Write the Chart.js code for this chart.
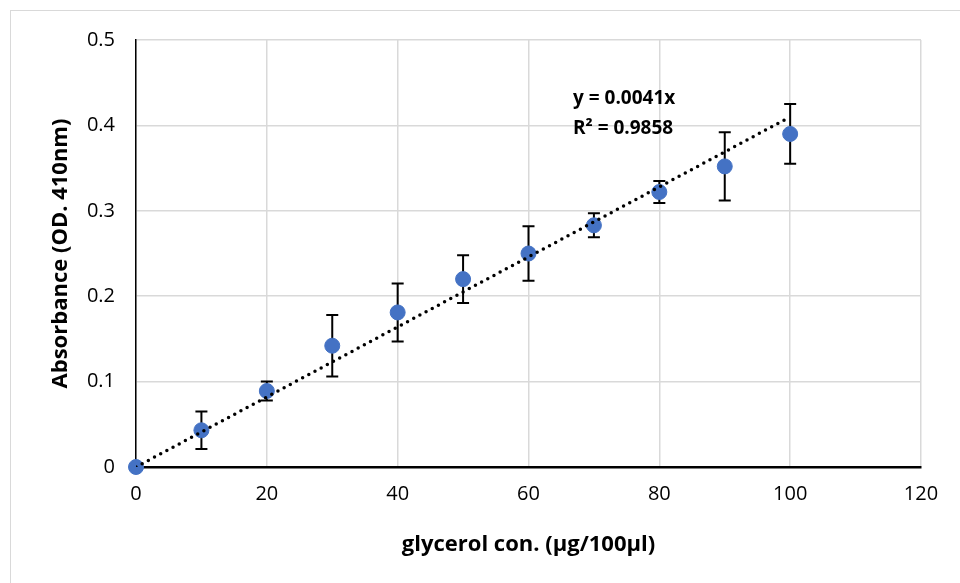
<!DOCTYPE html>
<html lang="en">
<head>
    <meta charset="UTF-8">
    <title>Glycerol standard curve</title>
    <script src="https://cdn.jsdelivr.net/npm/chart.js"></script>
    <style>
        body {
            margin: 0;
            padding: 0;
            background-color: white;
            overflow: hidden;
        }
        #frame {
            position: absolute;
            left: 10px;
            top: 10px;
            width: 1000px;
            height: 700px;
            border: 1px solid #d9d9d9;
        }
        #chart-container {
            position: absolute;
            left: 0;
            top: 0;
            width: 960px;
            height: 583px;
        }
    </style>
</head>
<body>
    <div id="frame"></div>
    <div id="chart-container">
        <canvas id="curve"></canvas>
    </div>

    <script>
        // standard curve readings
        var concentration = [0, 10, 20, 30, 40, 50, 60, 70, 80, 90, 100];
        var absorbance = [0, 0.043, 0.089, 0.142, 0.181, 0.220, 0.250, 0.283, 0.322, 0.352, 0.390];
        var stdError = [0, 0.022, 0.011, 0.036, 0.034, 0.028, 0.032, 0.014, 0.013, 0.040, 0.035];
        var xTicks = [0, 20, 40, 60, 80, 100, 120];
        var yTicks = [0, 0.1, 0.2, 0.3, 0.4, 0.5];

        // linear fit through origin
        var slope = 0.0041;
        var rSquared = 0.9858;
        var fitX = [0, 100];

        var fontFamily = "'Open Sans', sans-serif";

        var points = concentration.map(function (x, i) {
            return { x: x, y: absorbance[i] };
        });
        var fitLine = fitX.map(function (x) {
            return { x: x, y: slope * x };
        });

        // vertical error bars with caps, drawn under the markers
        var errorBars = {
            id: 'errorBars',
            beforeDatasetsDraw: function (chart) {
                var ctx = chart.ctx;
                var xs = chart.scales.x, ys = chart.scales.y;
                ctx.save();
                ctx.strokeStyle = '#000';
                ctx.lineWidth = 2;
                for (var i = 0; i < concentration.length; i++) {
                    if (!stdError[i]) continue;
                    var px = xs.getPixelForValue(concentration[i]);
                    var top = ys.getPixelForValue(absorbance[i] + stdError[i]);
                    var bot = ys.getPixelForValue(absorbance[i] - stdError[i]);
                    ctx.beginPath();
                    ctx.moveTo(px, top);
                    ctx.lineTo(px, bot);
                    ctx.moveTo(px - 6, top);
                    ctx.lineTo(px + 6, top);
                    ctx.moveTo(px - 6, bot);
                    ctx.lineTo(px + 6, bot);
                    ctx.stroke();
                }
                ctx.restore();
            }
        };

        // equation and R² label next to the trendline
        var fitLabel = {
            id: 'fitLabel',
            afterDatasetsDraw: function (chart) {
                var ctx = chart.ctx;
                var px = chart.scales.x.getPixelForValue(66.8);
                var py = chart.scales.y.getPixelForValue(0.431);
                ctx.save();
                ctx.fillStyle = '#000';
                ctx.font = 'bold 19px ' + fontFamily;
                ctx.textBaseline = 'middle';
                ctx.fillText('y = ' + slope + 'x', px, py);
                ctx.fillText('R² = ' + rSquared, px, py + 30);
                ctx.restore();
            }
        };

        var ctx = document.getElementById('curve').getContext('2d');
        var chart = new Chart(ctx, {
            type: 'scatter',
            data: {
                datasets: [{
                    label: 'fit',
                    type: 'line',
                    data: fitLine,
                    borderColor: '#000',
                    borderWidth: 3.5,
                    borderDash: [0, 7],
                    borderCapStyle: 'round',
                    pointRadius: 0,
                    fill: false,
                    order: 0
                }, {
                    label: 'absorbance',
                    data: points,
                    backgroundColor: '#4472C4',
                    borderColor: '#4472C4',
                    pointRadius: 7.5,
                    clip: false,
                    order: 1
                }]
            },
            options: {
                responsive: true,
                maintainAspectRatio: false,
                animation: false,
                layout: {
                    padding: { top: 40, right: 39, left: 48, bottom: 25 }
                },
                plugins: {
                    legend: { display: false },
                    tooltip: { enabled: false }
                },
                scales: {
                    x: {
                        type: 'linear',
                        min: 0,
                        max: 120,
                        afterBuildTicks: function (scale) {
                            scale.ticks = xTicks.map(function (v) { return { value: v }; });
                        },
                        afterFit: function (scale) { scale.height = 91; },
                        grid: {
                            color: '#d9d9d9',
                            lineWidth: 1.5,
                            drawTicks: false
                        },
                        border: { color: '#000', width: 2.5 },
                        ticks: {
                            padding: 15,
                            color: '#000',
                            font: { family: fontFamily, size: 20 }
                        },
                        title: {
                            display: true,
                            text: 'glycerol con. (μg/100μl)',
                            color: '#000',
                            font: { family: fontFamily, size: 22, weight: 'bold' },
                            padding: 0
                        }
                    },
                    y: {
                        type: 'linear',
                        min: 0,
                        max: 0.5,
                        afterBuildTicks: function (scale) {
                            scale.ticks = yTicks.map(function (v) { return { value: v }; });
                        },
                        afterFit: function (scale) { scale.width = 88; },
                        grid: {
                            color: '#d9d9d9',
                            lineWidth: 1.5,
                            drawTicks: false
                        },
                        border: { color: '#000', width: 1.5 },
                        ticks: {
                            padding: 21,
                            color: '#000',
                            font: { family: fontFamily, size: 20 },
                            callback: function (v) { return v === 0 ? '0' : v.toFixed(1); }
                        },
                        title: {
                            display: true,
                            text: 'Absorbance (OD. 410nm)',
                            color: '#000',
                            font: { family: fontFamily, size: 22, weight: 'bold' },
                            padding: 0
                        }
                    }
                }
            },
            plugins: [errorBars, fitLabel]
        });
    </script>
</body>
</html>
